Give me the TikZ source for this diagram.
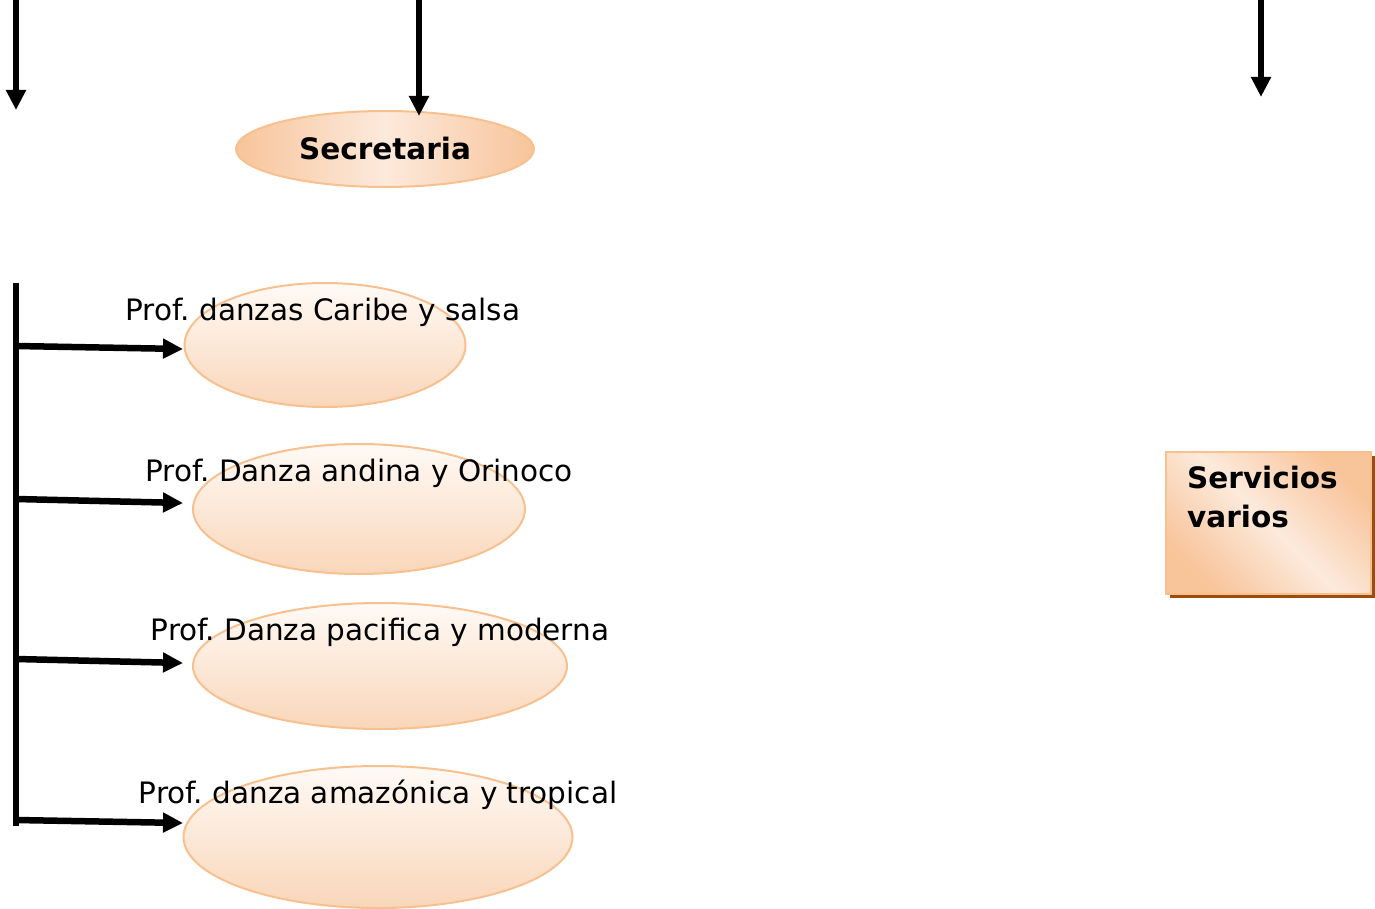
\documentclass[tikz,border=0pt]{standalone}
\usepackage{fontspec}
\setmainfont{DejaVu Sans}
\usetikzlibrary{arrows.meta,shapes.geometric,shadows}
\frenchspacing

\definecolor{borde}{HTML}{F8C08E}
\definecolor{naranja}{HTML}{F8C49A}
\definecolor{crema}{HTML}{FCEADC}
\definecolor{claro}{HTML}{FFFAF6}
\definecolor{medio}{HTML}{F9D6B9}
\definecolor{sombra}{HTML}{9E4C0C}

\begin{document}
\begin{tikzpicture}[x=1pt,y=-1pt,
	flecha/.style={line width=6.5pt,-{Triangle[length=20pt,width=19pt]}},
	prof/.style={ellipse,draw=borde,line width=2pt,top color=claro,bottom color=medio,inner sep=0pt},
	rotulo/.style={font=\fontsize{29.5}{35}\selectfont}]
	\useasboundingbox (0,0) rectangle (1375,909);
	
	% Secretaria
	\node[ellipse, draw=borde, line width=2pt, left color=naranja, right color=naranja, middle color=crema,
		minimum width=298pt, minimum height=76pt, inner sep=0pt,
		font=\bfseries\fontsize{29.5}{35}\selectfont] (sec) at (385,149) {Secretaria};
	
	% arrows from above
	\coordinate (a1) at (16,0);
	\coordinate (a1e) at (16,110);
	\coordinate (a2) at (419,0);
	\coordinate (a2e) at (419,116);
	\coordinate (a3) at (1261,0);
	\coordinate (a3e) at (1261,97);
	\draw[flecha] (a1) -- (a1e);
	\draw[flecha] (a2) -- (a2e);
	\draw[flecha] (a3) -- (a3e);
	
	% profesores
	\node[prof, minimum width=281pt, minimum height=124pt] (e1) at (325,345) {};
	\node[prof, minimum width=332pt, minimum height=130pt] (e2) at (359,509) {};
	\node[prof, minimum width=374pt, minimum height=126pt] (e3) at (380,666) {};
	\node[prof, minimum width=389pt, minimum height=142pt] (e4) at (378,837) {};
	
	\node[rotulo] (l1) at (323,312) {Prof. danzas Caribe y salsa};
	\node[rotulo] (l2) at (359,473) {Prof. Danza andina y Orinoco};
	\node[rotulo] (l3) at (380,632) {Prof. Danza pacifica y moderna};
	\node[rotulo] (l4) at (378,795) {Prof. danza amazónica y tropical};
	
	% trunk
	\coordinate (t0) at (16,283);
	\coordinate (t1) at (16,346);
	\coordinate (t2) at (16,499);
	\coordinate (t3) at (16,659);
	\coordinate (t4) at (16,820);
	\coordinate (t5) at (16,826);
	\coordinate (p1) at (183,349);
	\coordinate (p2) at (183,503);
	\coordinate (p3) at (183,663);
	\coordinate (p4) at (183,823);
	\draw[line width=6.5pt] (t0) -- (t5);
	\draw[flecha] (t1) -- (p1);
	\draw[flecha] (t2) -- (p2);
	\draw[flecha] (t3) -- (p3);
	\draw[flecha] (t4) -- (p4);
	
	% Servicios varios
	\node[anchor=north west, draw=borde, line width=2pt, minimum width=205pt, minimum height=142pt,
		top color=naranja, bottom color=naranja, middle color=crema, shading angle=-45,
		drop shadow={shadow xshift=4pt, shadow yshift=-4pt, fill=sombra, opacity=1}] (serv) at (1165,451) {};
	\node[anchor=north west, align=left, inner sep=0pt, font=\bfseries\fontsize{29.5}{39}\selectfont]
		(servt) at (1187,466) {Servicios\\varios};
	
\end{tikzpicture}
\end{document}
